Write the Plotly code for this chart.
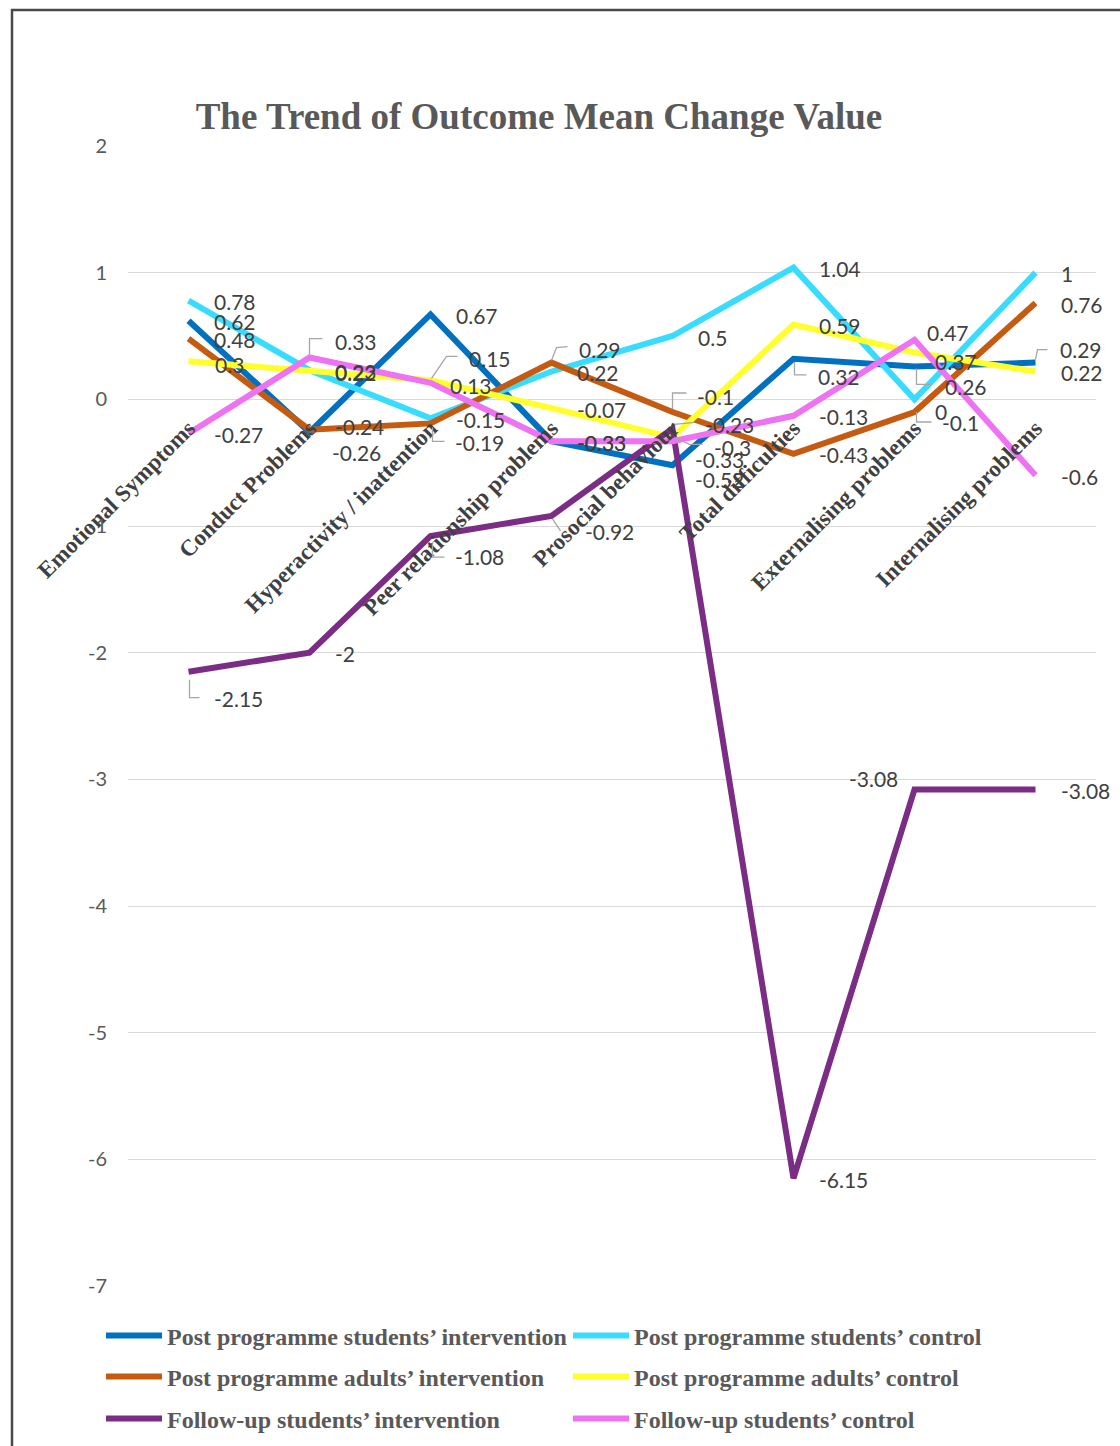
import plotly.graph_objects as go

# ---- data -------------------------------------------------------------
categories = [
    "Emotional Symptoms",
    "Conduct Problems",
    "Hyperactivity / inattention",
    "Peer relationship problems",
    "Prosocial behaviour",
    "Total difficulties",
    "Externalising problems",
    "Internalising problems",
]

post_students_intervention = [0.62, -0.26, 0.67, -0.33, -0.52, 0.32, 0.26, 0.29]
post_students_control = [0.78, 0.23, -0.15, 0.22, 0.5, 1.04, 0, 1]
post_adults_intervention = [0.48, -0.24, -0.19, 0.29, -0.1, -0.43, -0.1, 0.76]
post_adults_control = [0.3, 0.22, 0.15, -0.07, -0.3, 0.59, 0.37, 0.22]
followup_students_intervention = [-2.15, -2, -1.08, -0.92, -0.23, -6.15, -3.08, -3.08]
followup_students_control = [-0.27, 0.33, 0.13, -0.33, -0.33, -0.13, 0.47, -0.6]

series_names = [
    "Post programme students’ intervention",
    "Post programme students’ control",
    "Post programme adults’ intervention",
    "Post programme adults’ control",
    "Follow-up students’ intervention",
    "Follow-up students’ control",
]
series_values = [
    post_students_intervention,
    post_students_control,
    post_adults_intervention,
    post_adults_control,
    followup_students_intervention,
    followup_students_control,
]

y_tick_values = [2, 1, 0, -1, -2, -3, -4, -5, -6, -7]
y_tick_labels = ["2", "1", "0", "-1", "-2", "-3", "-4", "-5", "-6", "-7"]

# ---- styling ----------------------------------------------------------
colors = ["#0070C0", "#38DCFF", "#C55A11", "#FFFF2E", "#7B2C85", "#EE72F1"]
legend_rows = ["legend", "legend", "legend2", "legend2", "legend3", "legend3"]

LABEL_FONT = dict(family="Lato", size=21, color="#404040")
SERIF = "Liberation Serif"
LEADER_COLOR = "#A6A6A6"

# Label placement (pixels): (dx to label's left edge, dy to label centre, +down)
# and optional leader path points (pixels from the point, +down).
DEFAULT_OFFSET = (23, 1)
label_offsets = {
    (0, 1): (20, 20), (0, 4): (20, 14),
    (0, 5): (22, 18), (0, 6): (28, 20), (0, 7): (22, -13),
    (1, 6): (18, 12),
    (2, 1): (23, -3), (2, 2): (22, 19), (2, 3): (25, -13), (2, 4): (22, -16),
    (2, 6): (25, 10),
    (3, 0): (24, 3), (3, 2): (36, -22), (3, 4): (39, 10), (3, 6): (18, 9),
    (4, 0): (23, 27), (4, 2): (22, 20), (4, 3): (31, 16), (4, 4): (30, -4),
    (4, 6): (-15, -11),
    (5, 1): (23, -16), (5, 2): (17, 3), (5, 4): (20, 18), (5, 6): (10, -7),
}
right_anchored = {(4, 6)}
leaders = {
    (0, 5): [(1, 3), (1, 16), (13, 16)],
    (0, 6): [(2, 2), (2, 18), (17, 18)],
    (0, 7): [(0, -3), (2, -13), (12, -13)],
    (2, 2): [(2, 4), (2, 18), (14, 18)],
    (2, 3): [(0, -2), (5, -15), (16, -16)],
    (2, 4): [(0, -3), (0, -19), (14, -19)],
    (2, 6): [(2, 0), (2, 10), (17, 10)],
    (3, 2): [(1, -2), (16, -24), (27, -24)],
    (3, 4): [(2, 0), (17, 7), (30, 7)],
    (4, 0): [(1, 8), (1, 26), (11, 26)],
    (4, 2): [(2, 7), (2, 21), (14, 21)],
    (4, 3): [(1, 3), (9, 15)],
    (4, 4): [(2, -4), (22, -6)],
    (5, 1): [(0, -3), (0, -19), (13, -19)],
}

fig = go.Figure()

for s, (name, vals) in enumerate(zip(series_names, series_values)):
    fig.add_trace(
        go.Scatter(
            x=list(range(len(categories))),
            y=vals,
            mode="lines",
            name=name,
            line=dict(color=colors[s], width=6),
            legend=legend_rows[s],
            hoverinfo="x+y",
        )
    )

annotations = []
shapes = []
for s, vals in enumerate(series_values):
    for i, v in enumerate(vals):
        dx, dy = label_offsets.get((s, i), DEFAULT_OFFSET)
        annotations.append(
            dict(
                x=i, y=v, xref="x", yref="y",
                text=f"{v:g}",
                showarrow=False,
                xanchor="right" if (s, i) in right_anchored else "left",
                yanchor="middle",
                xshift=dx, yshift=-dy,
                font=LABEL_FONT,
            )
        )
        pts = leaders.get((s, i))
        if pts:
            path = "M " + " L ".join(f"{px},{-py}" for px, py in pts)
            shapes.append(
                dict(
                    type="path", path=path,
                    xref="x", yref="y",
                    xsizemode="pixel", ysizemode="pixel",
                    xanchor=i, yanchor=v,
                    line=dict(color=LEADER_COLOR, width=1.3),
                    layer="above",
                )
            )

# outer chart frame (left and top edges are visible, the rest runs off the page)
W, H = 1120, 1446
ML, MR, MT, MB = 128, 24, 146, 160
pw, ph = W - ML - MR, H - MT - MB


def px_to_paper_x(px):
    return (px - ML) / pw


def px_to_paper_y(py):
    return (H - MB - py) / ph


shapes.append(
    dict(
        type="rect", xref="paper", yref="paper",
        x0=px_to_paper_x(12), x1=px_to_paper_x(1140),
        y0=px_to_paper_y(1470), y1=px_to_paper_y(10),
        line=dict(color="#4A4A4A", width=2.5),
        layer="below",
    )
)

legend_common = dict(
    orientation="h",
    xref="container", yref="container",
    x=101 / W,
    xanchor="left", yanchor="middle",
    font=dict(family=SERIF, size=24, color="#595959", weight="bold"),
    entrywidth=396, entrywidthmode="pixels",
    itemwidth=56,
    bgcolor="rgba(0,0,0,0)",
    traceorder="normal",
)

fig.update_layout(
    width=W, height=H,
    margin=dict(l=ML, r=MR, t=MT, b=MB, autoexpand=False),
    paper_bgcolor="white",
    plot_bgcolor="white",
    title=dict(
        text="The Trend of Outcome Mean Change Value",
        font=dict(family=SERIF, size=37, color="#595959", weight="bold"),
        xref="container", yref="container",
        x=539 / W, y=1 - 116 / H,
        xanchor="center", yanchor="middle",
    ),
    xaxis=dict(
        type="linear",
        range=[-0.5, 7.5],
        tickvals=list(range(len(categories))),
        ticktext=categories,
        tickangle=-45,
        anchor="free",
        position=7 / 9,
        showgrid=False, showline=False, zeroline=False,
        ticks="",
        ticklabelstandoff=10,
        tickfont=dict(family=SERIF, size=23, color="#404040", weight="bold"),
    ),
    yaxis=dict(
        range=[-7, 2],
        tickvals=y_tick_values,
        ticktext=y_tick_labels,
        showgrid=True, gridcolor="#D9D9D9", gridwidth=1.3,
        zeroline=True, zerolinecolor="#D9D9D9", zerolinewidth=1.3,
        showline=False, ticks="",
        ticklabelstandoff=20,
        tickfont=dict(family="Lato", size=20, color="#595959"),
    ),
    legend=dict(legend_common, y=1 - 1336 / H),
    legend2=dict(legend_common, y=1 - 1377 / H),
    legend3=dict(legend_common, y=1 - 1419 / H),
    annotations=annotations,
    shapes=shapes,
    showlegend=True,
)

fig.write_html("out.html")
